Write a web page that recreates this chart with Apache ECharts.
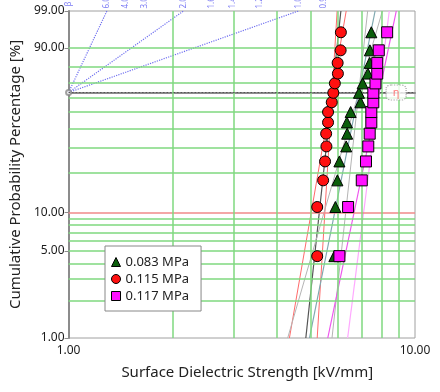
<!DOCTYPE html>
<html><head><meta charset="utf-8">
<script src="https://cdn.jsdelivr.net/npm/echarts@6/dist/echarts.min.js"></script>
<style>html,body{margin:0;padding:0;background:#fff}#c{width:440px;height:392px}</style>
</head><body><div id="c"></div>
<script>
// ---- data ----
const probs = [4.55, 11.04, 17.53, 24.03, 30.52, 37.01, 43.51, 50.00, 56.49, 62.99, 69.48, 75.97, 82.47, 88.96, 95.45];
const s083 = [5.85, 5.89, 5.97, 6.05, 6.33, 6.37, 6.36, 6.52, 6.96, 6.89, 7.06, 7.31, 7.40, 7.41, 7.48];
const s115 = [5.22, 5.22, 5.43, 5.50, 5.55, 5.54, 5.61, 5.61, 5.75, 5.81, 5.87, 5.99, 5.98, 6.10, 6.11];
const s117 = [6.05, 6.41, 7.02, 7.22, 7.33, 7.40, 7.48, 7.48, 7.58, 7.58, 7.69, 7.78, 7.78, 7.86, 8.31];
const seriesNames = ['0.083 MPa', '0.115 MPa', '0.117 MPa'];

// fitted / bound lines: x at F=1% and F=99%
const lineProbs = [1, 99];
const fit115 = [4.84, 6.11];
const bound115a = [4.34, 6.33];
const bound115b = [5.22, 5.96];
const fit083 = [4.96, 7.67];
const bound083a = [4.29, 8.05];
const bound083b = [5.76, 7.30];
const fit117 = [5.60, 8.83];
const bound117a = [6.39, 8.43];

// axes / scales
const yTickLabels = [1, 5, 10, 90, 99];
const gridProbs = [2, 3, 4, 5, 6, 7, 8, 9, 20, 30, 40, 50, 60, 70, 80, 90];
const redGridProb = [10];
const xGridVals = [2, 3, 4, 5, 6, 7, 8, 9];
const betaTicks = [6.0, 4.0, 3.0, 2.0, 1.6, 1.4, 1.2, 1.0, 0.9];
const betaGuides = [6.0, 2.0, 1.0];
const etaProb = 63.212;
const etaBoxX = [8.82];

// ---- build ----
const T = p => Math.log(-Math.log(1 - p / 100));
const invT = v => 100 * (1 - Math.exp(-Math.exp(v)));
const yMin = T(1), yMax = T(99);
const FONT = 'Noto Sans';
const GREEN = '#7fd87f';

const markData = [];
gridProbs.forEach(p => markData.push({yAxis: T(p), lineStyle: {color: GREEN, width: 1.5, type: 'solid'}}));
redGridProb.forEach(p => markData.push({yAxis: T(p), lineStyle: {color: '#f08a8a', width: 1.5, type: 'solid'}}));
xGridVals.forEach(x => markData.push({xAxis: x, lineStyle: {color: GREEN, width: 1.5, type: 'solid'}}));
markData.push({yAxis: T(etaProb), lineStyle: {color: '#555', width: 1, type: [1.5, 2]}});

const series = [];
series.push({
  type: 'line', data: [[1, yMin]], showSymbol: false, silent: true, lineStyle: {opacity: 0},
  markLine: {symbol: ['none', 'none'], silent: true, animation: false, label: {show: false}, data: markData},
  z: 1
});
betaGuides.forEach(b => series.push({
  type: 'line', silent: true, showSymbol: false, z: 2,
  data: [[1, T(etaProb)], [Math.exp(yMax / b), yMax]],
  lineStyle: {color: '#6f6ff0', width: 1.2, type: 'dotted'}
}));
// beta scale labels
const betaLabel = {show: true, position: 'top', distance: 1, rotate: 90, align: 'left', verticalAlign: 'middle',
  formatter: p => p.name, color: '#5a5af0', fontSize: 8, fontFamily: FONT};
series.push({
  type: 'scatter', silent: true, symbolSize: 1, itemStyle: {color: 'rgba(0,0,0,0)'}, z: 3, clip: false,
  data: betaTicks.map(b => ({value: [Math.exp(yMax / b), yMax], name: b.toFixed(1)})),
  label: Object.assign({}, betaLabel, {offset: [1, 0]})
});
series.push({
  type: 'scatter', silent: true, symbolSize: 1, itemStyle: {color: 'rgba(0,0,0,0)'}, z: 3, clip: false,
  data: [{value: [1, yMax], name: 'β'}],
  label: Object.assign({}, betaLabel, {offset: [3, 0]})
});
// pivot marker
series.push({
  type: 'scatter', silent: true, z: 3, clip: false, symbol: 'emptyCircle', symbolSize: 5,
  itemStyle: {color: '#888', borderColor: '#888'},
  data: [[1, T(etaProb)]]
});

function addLine(xs, color, width) {
  series.push({
    type: 'line', silent: true, showSymbol: false, z: 4,
    data: xs.map((x, i) => [x, T(lineProbs[i])]),
    lineStyle: {color: color, width: width}
  });
}
addLine(bound115a, '#ff6a6a', 1);
addLine(bound115b, '#ff6a6a', 1);
addLine(fit115, '#555555', 1.2);
addLine(bound083a, '#b4b4b4', 1);
addLine(bound083b, '#b4b4b4', 1);
addLine(fit083, '#7fa8b0', 1.2);
addLine(bound117a, '#ffa8ff', 1.2);
addLine(fit117, '#ee55ee', 1.2);

// eta box
series.push({
  type: 'scatter', silent: true, z: 5,
  data: etaBoxX.map(x => [x, T(etaProb)]),
  symbol: 'roundRect', symbolSize: [20, 15],
  itemStyle: {color: '#fff', borderColor: '#999', borderWidth: 1.2, borderType: 'dotted'},
  label: {show: true, position: 'inside', formatter: 'η', color: '#ff5a5a', fontSize: 11, fontFamily: FONT}
});

const styles = [
  {symbol: 'triangle', size: 11, color: '#0b5e0b'},
  {symbol: 'circle', size: 11, color: '#ff1010'},
  {symbol: 'rect', size: 11, color: '#ff10ff'}
];
[s083, s115, s117].forEach((arr, k) => series.push({
  name: seriesNames[k], type: 'scatter', z: 10,
  symbol: styles[k].symbol, symbolSize: styles[k].size,
  itemStyle: {color: styles[k].color, borderColor: '#000', borderWidth: 1, opacity: 1},
  data: arr.map((x, i) => [x, T(probs[i])])
}));

const chart = echarts.init(document.getElementById('c'), null, {renderer: 'canvas'});
chart.setOption({
  animation: false,
  backgroundColor: '#fff',
  textStyle: {fontFamily: FONT},
  grid: {left: 64, right: 25, top: 11, bottom: 54, show: true, borderColor: '#a0a0a0', borderWidth: 1, backgroundColor: 'transparent'},
  legend: {
    orient: 'vertical', left: 105, top: 246, z: 50, zlevel: 0,
    data: seriesNames.map((n, k) => ({name: n, icon: styles[k].symbol})),
    backgroundColor: '#fff', borderColor: '#888', borderWidth: 1, borderRadius: 0,
    padding: [9, 12, 8, 6], itemGap: 3, itemWidth: 9, itemHeight: 9,
    itemStyle: {borderColor: '#000', borderWidth: 1},
    textStyle: {fontSize: 13, color: '#222', fontFamily: FONT, lineHeight: 14}
  },
  xAxis: {
    type: 'log', logBase: 10, min: 1, max: 10,
    name: 'Surface Dielectric Strength [kV/mm]', nameLocation: 'middle', nameGap: 27,
    nameTextStyle: {fontSize: 15, color: '#222', fontFamily: FONT, padding: [0, 0, 0, 11]},
    axisLine: {show: true, lineStyle: {color: '#8c8c8c', width: 2}},
    axisTick: {show: false},
    axisLabel: {formatter: v => Number(v).toFixed(2), fontSize: 12, color: '#1a1a1a', margin: 7},
    splitLine: {show: false}, minorTick: {show: false}
  },
  yAxis: {
    type: 'value', min: yMin, max: yMax,
    name: 'Cumulative Probability Percentage [%]', nameLocation: 'middle', nameGap: 43, nameRotate: 90,
    nameTextStyle: {fontSize: 15, color: '#222', fontFamily: FONT},
    axisLine: {show: true, lineStyle: {color: '#8c8c8c', width: 2}},
    axisTick: {show: true, customValues: yTickLabels.map(T), length: 4, lineStyle: {color: '#8c8c8c'}},
    axisLabel: {customValues: yTickLabels.map(T), formatter: v => invT(v).toFixed(2), fontSize: 12, color: '#1a1a1a', margin: 4},
    splitLine: {show: false}
  },
  series: series
});
</script></body></html>
